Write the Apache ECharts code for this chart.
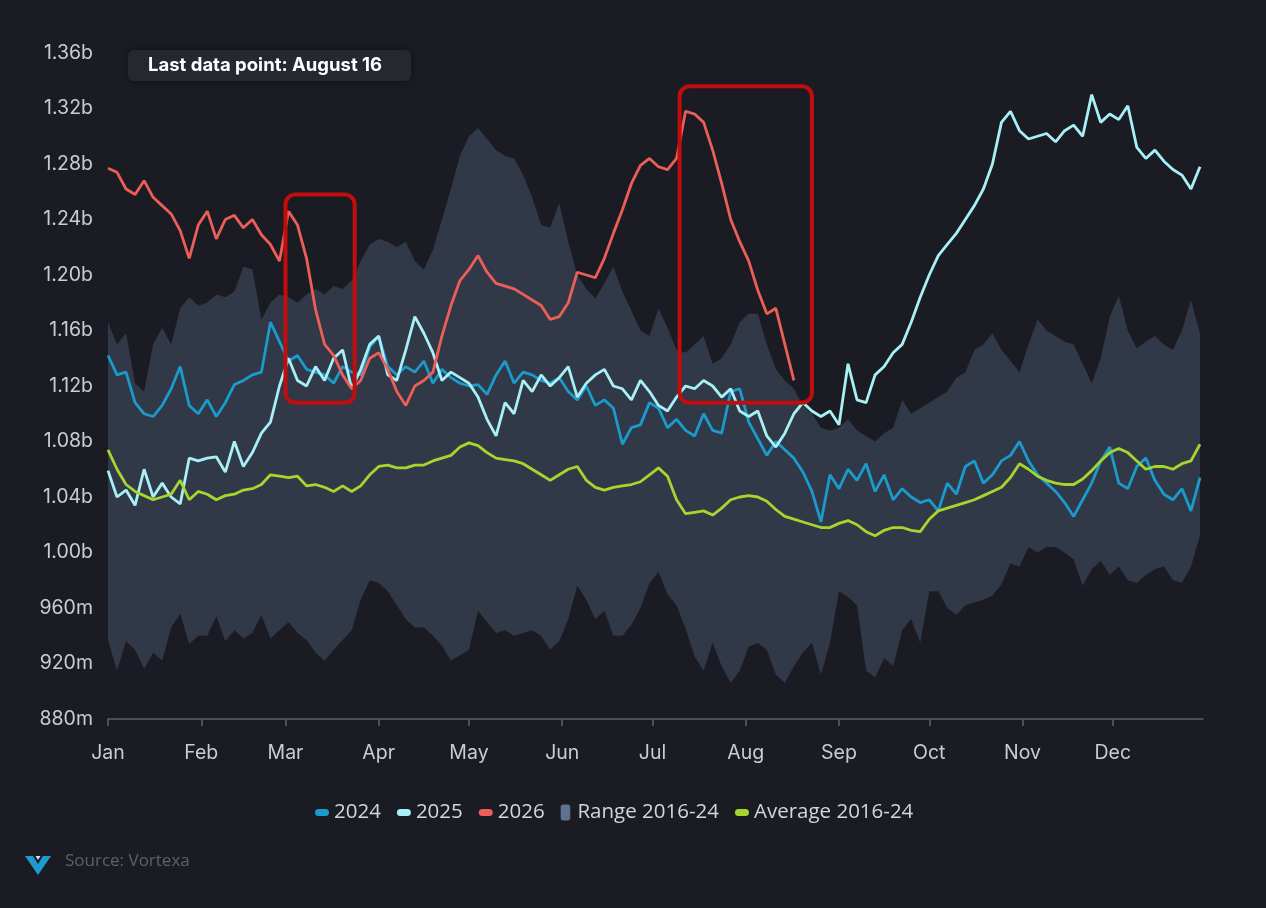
<!DOCTYPE html>
<html>
<head>
<meta charset="utf-8">
<script src="https://cdn.jsdelivr.net/npm/echarts@6/dist/echarts.min.js"></script>
<style>
  html, body { margin: 0; height: 100%; background: #1b1c23; }
  #chart { width: 1266px; height: 908px; }
</style>
</head>
<body>
<div id="chart"></div>
<script>
// one point every 3 days, day 0 = Jan 1 (values in millions)
var STEP = 3;
var monthStarts = [0, 31, 59, 90, 120, 151, 181, 212, 243, 273, 304, 334];
var monthNames = ['Jan', 'Feb', 'Mar', 'Apr', 'May', 'Jun', 'Jul', 'Aug', 'Sep', 'Oct', 'Nov', 'Dec'];

var y2024 = [
  1142, 1128, 1130, 1108, 1100, 1098, 1106, 1118, 1134, 1106,
  1100, 1110, 1098, 1108, 1121, 1124, 1128, 1130, 1166, 1152,
  1138, 1142, 1132, 1130, 1128, 1122, 1134, 1130, 1128, 1148,
  1156, 1134, 1128, 1134, 1130, 1138, 1122, 1132, 1126, 1122,
  1120, 1121, 1114, 1128, 1138, 1122, 1130, 1128, 1124, 1122,
  1126, 1116, 1110, 1120, 1106, 1110, 1104, 1078, 1090, 1092,
  1108, 1104, 1090, 1096, 1088, 1084, 1100, 1088, 1086, 1116,
  1118, 1094, 1082, 1070, 1080, 1074, 1068, 1058, 1044, 1022,
  1056, 1046, 1060, 1052, 1064, 1044, 1056, 1038, 1046, 1040,
  1036, 1038, 1030, 1050, 1042, 1062, 1066, 1050, 1056, 1066,
  1070, 1080, 1066, 1056, 1050, 1044, 1036, 1026, 1038, 1050,
  1066, 1076, 1050, 1046, 1062, 1068, 1052, 1042, 1038, 1046,
  1030, 1054
];

var y2025 = [
  1059, 1040, 1045, 1034, 1060, 1040, 1050, 1040, 1035, 1068,
  1066, 1068, 1069, 1058, 1080, 1062, 1072, 1086, 1094, 1120,
  1140, 1124, 1120, 1134, 1124, 1140, 1146, 1118, 1132, 1150,
  1156, 1128, 1124, 1146, 1170, 1158, 1144, 1124, 1130, 1126,
  1122, 1112, 1096, 1084, 1108, 1100, 1124, 1116, 1128, 1120,
  1126, 1134, 1112, 1122, 1128, 1132, 1120, 1118, 1110, 1124,
  1116, 1106, 1102, 1112, 1120, 1118, 1124, 1120, 1112, 1118,
  1102, 1098, 1102, 1084, 1076, 1086, 1100, 1108, 1102, 1098,
  1102, 1092, 1136, 1110, 1108, 1128, 1134, 1144, 1150, 1166,
  1184, 1200, 1214, 1222, 1230, 1240, 1250, 1262, 1280, 1310,
  1318, 1304, 1298, 1300, 1302, 1296, 1304, 1308, 1300, 1330,
  1310, 1316, 1312, 1322, 1292, 1284, 1290, 1282, 1276, 1272,
  1262, 1278
];

// 2026 runs to mid-August only
var y2026 = [
  1277, 1274, 1262, 1258, 1268, 1256, 1250, 1244, 1232, 1212,
  1236, 1246, 1226, 1240, 1243, 1234, 1240, 1229, 1222, 1210,
  1246, 1236, 1212, 1175, 1150, 1142, 1128, 1118, 1124, 1140,
  1144, 1132, 1116, 1106, 1120, 1124, 1130, 1156, 1178, 1196,
  1204, 1214, 1202, 1194, 1192, 1190, 1186, 1182, 1178, 1168,
  1170, 1180, 1202, 1200, 1198, 1212, 1230, 1247, 1266, 1279,
  1284, 1278, 1276, 1284, 1318, 1316, 1310, 1290, 1266, 1240,
  1224, 1210, 1189, 1172, 1176, 1150, 1124
];

var rangeLow = [
  937, 915, 936, 930, 916, 928, 922, 946, 956, 934,
  940, 940, 954, 936, 944, 938, 942, 955, 938, 944,
  950, 942, 937, 928, 922, 930, 937, 944, 966, 980,
  978, 972, 962, 952, 946, 946, 940, 933, 922, 926,
  930, 958, 950, 942, 944, 940, 942, 944, 940, 930,
  936, 952, 976, 966, 952, 958, 940, 940, 948, 960,
  978, 986, 970, 962, 945, 925, 915, 935, 918, 906,
  915, 932, 935, 930, 912, 906, 918, 928, 935, 912,
  935, 972, 968, 962, 915, 910, 924, 918, 944, 952,
  935, 972, 972, 960, 955, 962, 964, 966, 969, 977,
  992, 990, 1004, 1000, 1004, 1004, 1000, 995, 976, 988,
  994, 984, 990, 980, 978, 984, 988, 990, 980, 978,
  990, 1012
];

var rangeHigh = [
  1166, 1150, 1158, 1122, 1116, 1150, 1162, 1150, 1176, 1184,
  1178, 1180, 1186, 1184, 1188, 1206, 1204, 1168, 1180, 1186,
  1184, 1180, 1186, 1190, 1186, 1192, 1190, 1196, 1210, 1222,
  1226, 1224, 1220, 1224, 1210, 1204, 1218, 1240, 1262, 1286,
  1300, 1306, 1298, 1290, 1286, 1284, 1272, 1256, 1236, 1234,
  1252, 1224, 1200, 1190, 1183, 1194, 1206, 1188, 1174, 1160,
  1156, 1176, 1162, 1146, 1144, 1150, 1156, 1136, 1140, 1150,
  1166, 1172, 1172, 1150, 1132, 1124, 1118, 1106, 1100, 1090,
  1088, 1090, 1096, 1088, 1084, 1080, 1086, 1090, 1110, 1100,
  1104, 1108, 1112, 1116, 1126, 1130, 1146, 1150, 1158, 1146,
  1138, 1130, 1150, 1168, 1160, 1156, 1152, 1150, 1136, 1122,
  1140, 1170, 1185, 1160, 1147, 1152, 1156, 1150, 1146, 1160,
  1182, 1158
];

var avg = [
  1074, 1060, 1049, 1044, 1041, 1038, 1040, 1042, 1052, 1038,
  1044, 1042, 1038, 1041, 1042, 1045, 1046, 1049, 1056, 1055,
  1054, 1055, 1048, 1049, 1047, 1044, 1048, 1044, 1048, 1056,
  1062, 1063, 1061, 1061, 1063, 1063, 1066, 1068, 1070, 1076,
  1079, 1077, 1072, 1068, 1067, 1066, 1064, 1060, 1056, 1052,
  1056, 1060, 1062, 1052, 1047, 1045, 1047, 1048, 1049, 1051,
  1056, 1061, 1055, 1038, 1028, 1029, 1030, 1027, 1032, 1038,
  1040, 1041, 1040, 1037, 1031, 1026, 1024, 1022, 1020, 1018,
  1018, 1021, 1023, 1020, 1015, 1012, 1016, 1018, 1018, 1016,
  1015, 1024, 1030, 1032, 1034, 1036, 1038, 1041, 1044, 1047,
  1054, 1064, 1060, 1055, 1052, 1050, 1049, 1049, 1053, 1059,
  1066, 1072, 1075, 1072, 1066, 1060, 1062, 1062, 1060, 1064,
  1066, 1078
];

// highlighted periods: [startDay, endDay, low, high]
var highlightBoxes = [
  [59, 82, 1108, 1258],
  [190, 234, 1108, 1336]
];

var BG = '#1b1c23';
var pill = 'path://M3.5,0h7a3.5,3.5 0 0 1 0,7h-7a3.5,3.5 0 0 1 0,-7z';
var tallBox = 'path://M2.5,0h4a2.5,2.5 0 0 1 2.5,2.5v10a2.5,2.5 0 0 1 -2.5,2.5h-4a2.5,2.5 0 0 1 -2.5,-2.5v-10a2.5,2.5 0 0 1 2.5,-2.5z';

function toPairs(arr) {
  return arr.map(function (v, i) { return [i * STEP, v]; });
}

var chart = echarts.init(document.getElementById('chart'));

function lineSeries(name, color, data, z) {
  return {
    name: name,
    type: 'line',
    data: toPairs(data),
    symbol: 'none',
    smooth: false,
    z: z,
    lineStyle: { color: color, width: 2.8 },
    itemStyle: { color: color }
  };
}

var option = {
  backgroundColor: BG,
  animation: false,
  title: {
    text: 'Last data point: August 16',
    left: 128,
    top: 50,
    padding: [6, 29, 6, 20],
    backgroundColor: '#262830',
    borderRadius: 6,
    shadowBlur: 6,
    shadowColor: 'rgba(0,0,0,0.4)',
    textStyle: { color: '#ffffff', fontSize: 18.5, fontWeight: 'bold', fontFamily: 'Inter' }
  },
  grid: { left: 108, right: 63, top: 53, bottom: 189 },
  legend: {
    left: 310,
    top: 797,
    itemWidth: 14,
    itemHeight: 16,
    itemGap: 16,
    textStyle: { color: '#d3d6dc', fontSize: 20.5, fontFamily: 'Open Sans' },
    data: [
      { name: '2024', icon: pill },
      { name: '2025', icon: pill },
      { name: '2026', icon: pill },
      { name: 'Range 2016-24', icon: tallBox, itemStyle: { color: '#5f7291' } },
      { name: 'Average 2016-24', icon: pill }
    ]
  },
  xAxis: {
    type: 'value',
    min: 0,
    max: 364,
    z: 10,
    splitLine: { show: false },
    axisLine: { show: true, lineStyle: { color: '#5b606b', width: 1.5 } },
    axisTick: { show: true, customValues: monthStarts, length: 7, lineStyle: { color: '#5b606b', width: 1.5 } },
    axisLabel: {
      customValues: monthStarts,
      color: '#c9ccd2',
      fontSize: 19.5,
      fontFamily: 'Inter',
      margin: 24,
      formatter: function (v) { return monthNames[monthStarts.indexOf(v)]; }
    }
  },
  yAxis: {
    type: 'value',
    min: 880,
    max: 1360,
    interval: 40,
    splitLine: { show: false },
    axisLine: { show: false },
    axisTick: { show: false },
    axisLabel: {
      color: '#c9ccd2',
      fontSize: 19.5,
      fontFamily: 'Inter',
      margin: 15,
      formatter: function (v) {
        return v >= 1000 ? (v / 1000).toFixed(2) + 'b' : v + 'm';
      }
    }
  },
  series: [
    {
      // upper edge of the historical range, filled down to the axis
      name: 'Range 2016-24',
      type: 'line',
      data: toPairs(rangeHigh),
      symbol: 'none',
      silent: true,
      z: 1,
      lineStyle: { width: 0, opacity: 0 },
      itemStyle: { color: '#5f7291' },
      areaStyle: { color: '#313848', opacity: 1, origin: 'start' }
    },
    {
      // lower edge: masks the fill below the range with the background colour
      name: 'rangeLow',
      type: 'line',
      data: toPairs(rangeLow),
      symbol: 'none',
      silent: true,
      z: 2,
      lineStyle: { width: 0, opacity: 0 },
      itemStyle: { color: BG },
      areaStyle: { color: BG, opacity: 1, origin: 'start' }
    },
    lineSeries('2024', '#1a9bcb', y2024, 3),
    lineSeries('2025', '#a8f0f7', y2025, 4),
    lineSeries('Average 2016-24', '#a6d62e', avg, 5),
    lineSeries('2026', '#ec5f59', y2026, 6)
  ],
  graphic: [
    {
      type: 'polygon',
      shape: { points: [[25, 856], [33, 856], [38, 864], [43, 856], [51, 856], [38, 875]] },
      style: { fill: '#1d9bd1' }
    },
    {
      type: 'polygon',
      shape: { points: [[35.5, 856], [40.5, 856], [38, 860]] },
      style: { fill: '#cfe6ef' }
    },
    {
      type: 'text',
      left: 65,
      top: 853,
      style: { text: 'Source: Vortexa', fill: '#5c616c', font: '17px "Open Sans"' }
    }
  ]
};

chart.setOption(option);

// red highlight boxes placed from data coordinates
var boxes = highlightBoxes.map(function (b) {
  var p1 = chart.convertToPixel({ xAxisIndex: 0, yAxisIndex: 0 }, [b[0], b[3]]);
  var p2 = chart.convertToPixel({ xAxisIndex: 0, yAxisIndex: 0 }, [b[1], b[2]]);
  return {
    type: 'rect',
    z: 20,
    shape: { x: p1[0], y: p1[1], width: p2[0] - p1[0], height: p2[1] - p1[1], r: 10 },
    style: { fill: 'none', stroke: '#c00d0d', lineWidth: 4 }
  };
});
chart.setOption({ graphic: option.graphic.concat(boxes) });
</script>
</body>
</html>
